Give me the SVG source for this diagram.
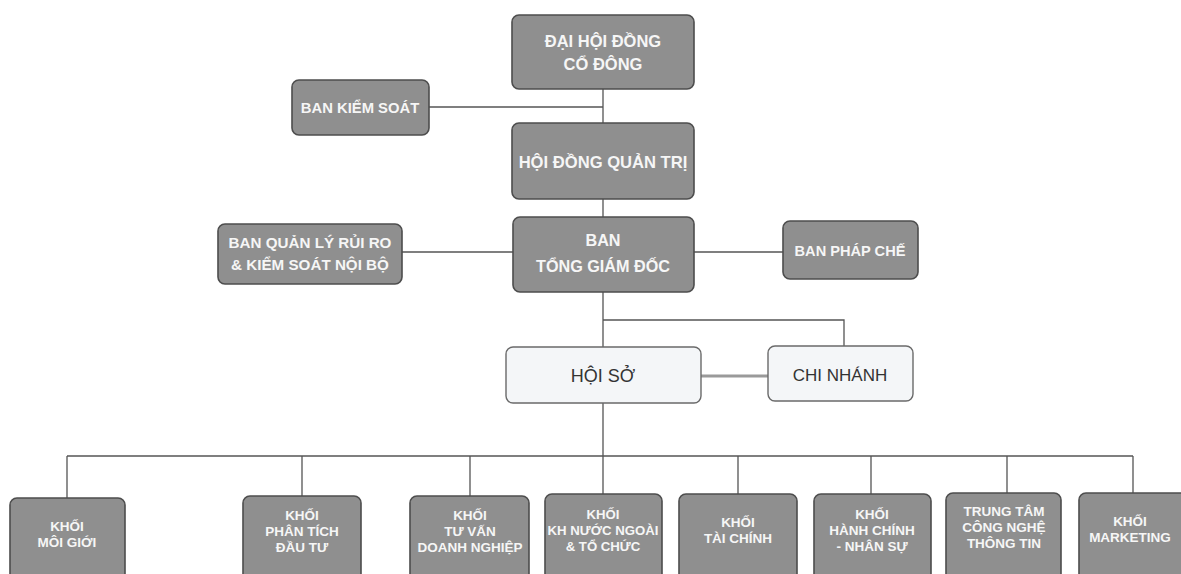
<svg xmlns="http://www.w3.org/2000/svg" width="1181" height="574" viewBox="0 0 1181 574">
<style>
.dark{fill:#8f8f8f;stroke:#4d4d4d;stroke-width:1.6}
.light{fill:#f4f6f8;stroke:#6a6a6a;stroke-width:1.4}
.tw{font-family:"Liberation Sans",Arial,sans-serif;font-weight:bold;fill:#f6f6f6;text-anchor:middle}
.td{font-family:"Liberation Sans",Arial,sans-serif;fill:#333;text-anchor:middle}
.ln{fill:none;stroke:#555;stroke-width:1.3}
</style>
<rect width="1181" height="574" fill="#ffffff"/>
<g id="connectors">
<path class="ln" d="M603 89V217M429 107H603"/>
<path class="ln" d="M402 252H513M694 252H783"/>
<path class="ln" d="M603 292V347M603 320H844V346"/>
<path d="M701 376H768" stroke="#9a9a9a" stroke-width="3" fill="none"/>
<path class="ln" d="M603 403V456M67 456H1133M67 456V498M302 456V496M470 456V496M603 456V494M738 456V494M871 456V494M1007 456V493M1133 456V493"/>
</g>
<g id="n_daihoi"><rect class="dark" x="512" y="15" width="182" height="74" rx="7"/><text class="tw" font-size="16.5"><tspan x="603" y="47">ĐẠI HỘI ĐỒNG</tspan><tspan x="603" y="70">CỔ ĐÔNG</tspan></text></g>
<g id="n_bks"><rect class="dark" x="292" y="80" width="137" height="55" rx="7"/><text class="tw" font-size="14.8" x="360" y="113">BAN KIỂM SOÁT</text></g>
<g id="n_hdqt"><rect class="dark" x="512" y="123" width="182" height="76" rx="7"/><text class="tw" font-size="16.6" x="603" y="168">HỘI ĐỒNG QUẢN TRỊ</text></g>
<g id="n_bqlrr"><rect class="dark" x="218" y="224" width="184" height="60" rx="7"/><text class="tw" font-size="15.2"><tspan x="310" y="248">BAN QUẢN LÝ RỦI RO</tspan><tspan x="310" y="270">&amp; KIỂM SOÁT NỘI BỘ</tspan></text></g>
<g id="n_tgd"><rect class="dark" x="513" y="217" width="181" height="75" rx="7"/><text class="tw" font-size="16.2"><tspan x="603" y="246">BAN</tspan><tspan x="603" y="272">TỔNG GIÁM ĐỐC</tspan></text></g>
<g id="n_bpc"><rect class="dark" x="783" y="221" width="135" height="58" rx="7"/><text class="tw" font-size="14.6" x="850" y="256">BAN PHÁP CHẾ</text></g>
<g id="n_hoiso"><rect class="light" x="506" y="347" width="195" height="56" rx="7"/><text class="td" font-size="18" x="603" y="382">HỘI SỞ</text></g>
<g id="n_chinhanh"><rect class="light" x="768" y="346" width="145" height="55" rx="7"/><text class="td" font-size="17" x="840" y="381">CHI NHÁNH</text></g>
<g id="n_moigioi"><rect class="dark" x="10" y="498" width="115" height="84" rx="7"/><text class="tw" font-size="13.5"><tspan x="67" y="531">KHỐI</tspan><tspan x="67" y="547">MÔI GIỚI</tspan></text></g>
<g id="n_phantich"><rect class="dark" x="243" y="496" width="118" height="86" rx="7"/><text class="tw" font-size="13.5"><tspan x="302" y="520">KHỐI</tspan><tspan x="302" y="536">PHÂN TÍCH</tspan><tspan x="302" y="552">ĐẦU TƯ</tspan></text></g>
<g id="n_tuvan"><rect class="dark" x="410" y="496" width="119" height="86" rx="7"/><text class="tw" font-size="13.5"><tspan x="470" y="520">KHỐI</tspan><tspan x="470" y="536">TƯ VẤN</tspan><tspan x="470" y="552">DOANH NGHIỆP</tspan></text></g>
<g id="n_khnn"><rect class="dark" x="545" y="494" width="117" height="88" rx="7"/><text class="tw" font-size="13.2"><tspan x="603" y="519">KHỐI</tspan><tspan x="603" y="535">KH NƯỚC NGOÀI</tspan><tspan x="603" y="551">&amp; TỔ CHỨC</tspan></text></g>
<g id="n_taichinh"><rect class="dark" x="679" y="494" width="118" height="88" rx="7"/><text class="tw" font-size="13.5"><tspan x="738" y="527">KHỐI</tspan><tspan x="738" y="543">TÀI CHÍNH</tspan></text></g>
<g id="n_hcns"><rect class="dark" x="814" y="494" width="117" height="88" rx="7"/><text class="tw" font-size="13.5"><tspan x="872" y="519">KHỐI</tspan><tspan x="872" y="535">HÀNH CHÍNH</tspan><tspan x="872" y="551">- NHÂN SỰ</tspan></text></g>
<g id="n_cntt"><rect class="dark" x="946" y="493" width="115" height="89" rx="7"/><text class="tw" font-size="13.5"><tspan x="1004" y="516">TRUNG TÂM</tspan><tspan x="1004" y="532">CÔNG NGHỆ</tspan><tspan x="1004" y="548">THÔNG TIN</tspan></text></g>
<g id="n_marketing"><rect class="dark" x="1079" y="493" width="110" height="89" rx="7"/><text class="tw" font-size="13.5"><tspan x="1130" y="526">KHỐI</tspan><tspan x="1130" y="542">MARKETING</tspan></text></g>
</svg>
